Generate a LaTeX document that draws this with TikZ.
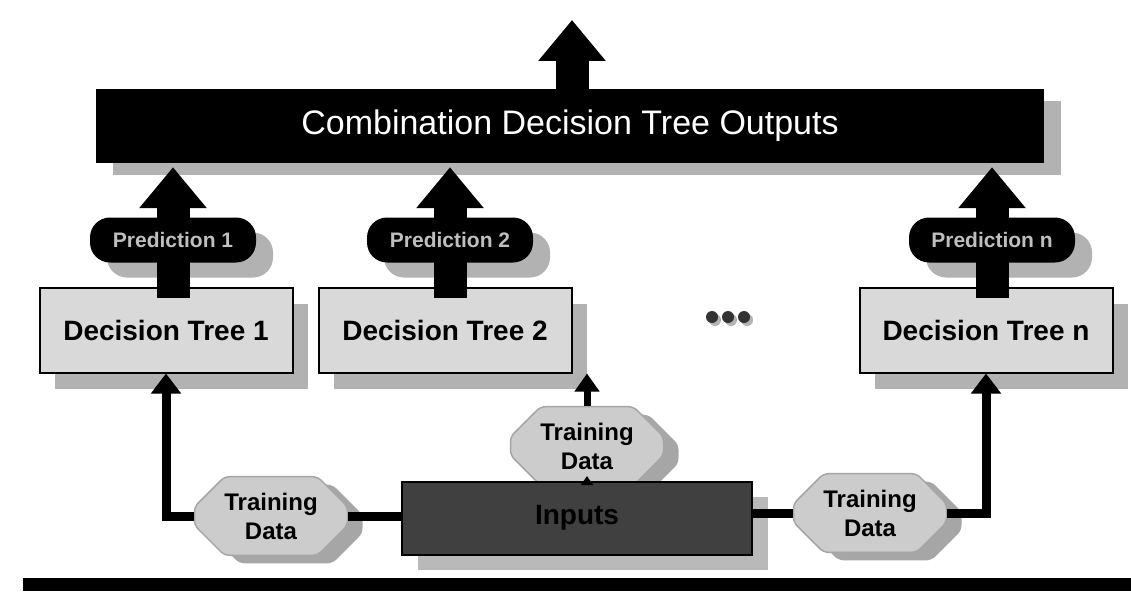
\documentclass[tikz,border=0pt]{standalone}
\usepackage{fontspec}
\setmainfont{Liberation Sans}
\usetikzlibrary{shapes.misc,shadows,arrows.meta}

\begin{document}
\begin{tikzpicture}[x=1pt,y=-1pt,
    outbox/.style={fill=black, text=white, minimum width=948pt, minimum height=74pt, inner sep=0pt,
        font=\fontsize{34}{40}\selectfont,
        drop shadow={shadow xshift=17pt,shadow yshift=-12pt,fill=gray!60,opacity=1}},
    treebox/.style={draw=black, line width=2pt, fill=gray!30, minimum width=253pt, minimum height=85pt, inner sep=0pt,
        font=\fontsize{28}{32}\selectfont\bfseries,
        drop shadow={shadow xshift=15pt,shadow yshift=-16pt,fill=gray!60,opacity=1}},
    predpill/.style={fill=black, rounded corners=20pt, minimum width=166pt, minimum height=45pt, inner sep=0pt,
        drop shadow={shadow xshift=17pt,shadow yshift=-15pt,fill=gray!60,opacity=1}},
    predtext/.style={text=gray!50, inner sep=0pt, font=\fontsize{21}{24}\selectfont\bfseries},
    datablob/.style={chamfered rectangle, chamfered rectangle xsep=14pt, chamfered rectangle ysep=16pt,
        rounded corners=5pt, draw=gray!70, line width=1.5pt, fill=gray!40, minimum width=153pt, minimum height=67pt,
        inner sep=0pt, align=center, font=\fontsize{24}{29}\selectfont\bfseries,
        drop shadow={shadow xshift=15pt,shadow yshift=-8pt,fill=gray!70,opacity=1}},
    inbox/.style={draw=black, line width=2pt, fill=black!75, minimum width=350pt, minimum height=73pt, inner sep=0pt,
        font=\fontsize{28}{32}\selectfont\bfseries,
        drop shadow={shadow xshift=16pt,shadow yshift=-15pt,fill=gray!55,opacity=1}},
    bigarrow/.style={line width=33pt, -{Triangle[width=65pt,length=41pt]}},
    feedline/.style={line width=9pt},
    feedarrow/.style={line width=9pt, line join=miter, -{Triangle[width=29pt,length=20pt]}},
    midarrow/.style={line width=7pt, -{Triangle[width=24pt,length=18pt]}},
    tinyarrow/.style={line width=3pt, -{Triangle[width=12pt,length=9pt]}}]
  \fill[white] (0,0) rectangle (1131,591);
  \useasboundingbox (0,0) rectangle (1131,591);

  % output box and its arrow
  \node[outbox] (outbox) at (570,126) {Combination Decision Tree Outputs};
  \coordinate (top) at (572,20);
  \draw[bigarrow] (top |- outbox.north) -- (top);

  % decision trees
  \node[treebox] (tree1) at (166,330) {Decision Tree 1};
  \node[treebox] (tree2) at (445,330) {Decision Tree 2};
  \node[treebox] (treen) at (986,330) {Decision Tree n};

  % predictions
  \node[predpill] (pill1) at (173,240) {};
  \node[predpill] (pill2) at (450,240) {};
  \node[predpill] (pilln) at (992,240) {};
  \foreach \t/\p in {tree1/pill1, tree2/pill2, treen/pilln}
    \draw[bigarrow] ([yshift=-11pt]\t.north -| \p) -- ([yshift=-4pt]\p |- outbox.south);
  \foreach \p/\n in {pill1/1, pill2/2, pilln/n}
    \node[predtext] (pred\n) at (\p) {Prediction \n};

  % dots
  \node[inner sep=0pt, minimum size=0pt] (dots) at (728,317) {};
  \foreach \dx in {-16,0,16} {
    \fill[gray!60] ([xshift=\dx pt+3pt, yshift=-3pt]dots) circle (6pt);
    \fill[black!80] ([xshift=\dx pt]dots) circle (6pt);
  }

  % inputs and training data
  \node[datablob] (tdl) at (271,516) {Training\\Data};
  \node[datablob] (tdm) at (587,446) {Training\\Data};
  \node[datablob] (tdr) at (870,513) {Training\\Data};
  \node[inbox] (inputs) at (577,518) {Inputs};
  \coordinate (tdmin) at ([yshift=10pt]tdm.south);

  \draw[feedline] (tdl.east) -- (tdl.east -| inputs.west);
  \draw[feedline] (inputs.east |- tdr.west) -- (tdr.west);
  \draw[feedarrow] (tdl.west) -| (tree1.south);
  \draw[feedarrow] (tdr.east) -| (treen.south);
  \draw[midarrow] (tdm.north) -- (tdm.north |- tree2.south);
  \draw[tinyarrow] (inputs.north -| tdm) -- (tdmin);

  % bottom rule
  \fill (23,578) rectangle (1131,591);
\end{tikzpicture}
\end{document}
